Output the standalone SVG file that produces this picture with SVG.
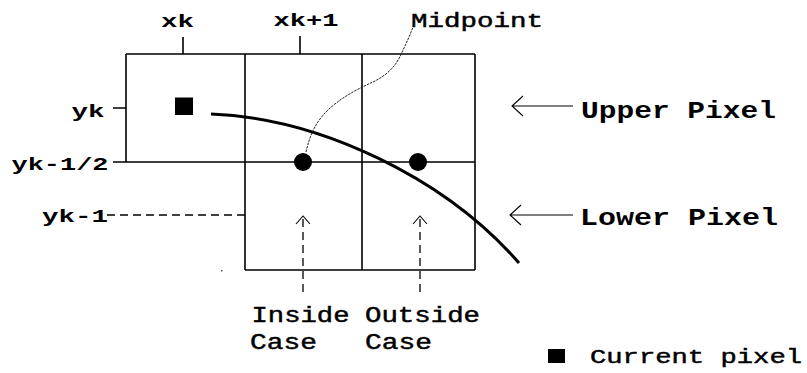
<svg xmlns="http://www.w3.org/2000/svg" width="807" height="373" viewBox="0 0 807 373">
<defs>
<style>
.bg{fill:#ffffff}
.grid{stroke:#000;stroke-width:1.6;fill:none}
.lbl{font-family:"Liberation Mono","DejaVu Sans Mono",monospace;fill:#000}
.b{font-weight:bold}
.r{stroke:#000;stroke-width:0.45}
.dash{stroke:#000;stroke-width:1.3;stroke-dasharray:8 5;fill:none}
.head{stroke:#000;stroke-width:1.1;fill:none}
</style>
</defs>
<rect class="bg" x="0" y="0" width="807" height="373"/>
<g id="grid">
<path class="grid" d="M126,54 H475 M113,162 H475 M245,270 H475 M126,54 V162 M245,54 V270 M362,54 V270 M475,54 V270 M183,37 V54 M300,36 V54 M113,108 H126"/>
<rect x="175" y="97.5" width="18" height="17.5" fill="#000"/>
<rect x="221" y="270" width="1.5" height="1.5" fill="#555"/>
</g>
<g id="labels">
<text class="lbl b" x="161" y="27" font-size="19" textLength="33" lengthAdjust="spacingAndGlyphs">xk</text>
<text class="lbl b" x="273.5" y="26" font-size="19" textLength="65" lengthAdjust="spacingAndGlyphs">xk+1</text>
<text class="lbl r" x="411" y="26.7" font-size="20" textLength="132" lengthAdjust="spacingAndGlyphs">Midpoint</text>
<text class="lbl b" x="71.5" y="117" font-size="19" textLength="33" lengthAdjust="spacingAndGlyphs">yk</text>
<text class="lbl b" x="11.5" y="169.5" font-size="19" textLength="97" lengthAdjust="spacingAndGlyphs">yk-1/2</text>
<text class="lbl b" x="42" y="221.5" font-size="19" textLength="66" lengthAdjust="spacingAndGlyphs">yk-1</text>
<text class="lbl b" x="581" y="118.3" font-size="24" textLength="195" lengthAdjust="spacingAndGlyphs">Upper Pixel</text>
<text class="lbl b" x="580" y="225" font-size="24" textLength="198" lengthAdjust="spacingAndGlyphs">Lower Pixel</text>
<text class="lbl r" x="251.5" y="321.7" font-size="22" textLength="98" lengthAdjust="spacingAndGlyphs">Inside</text>
<text class="lbl r" x="250" y="349" font-size="22" textLength="67" lengthAdjust="spacingAndGlyphs">Case</text>
<text class="lbl r" x="365" y="321.7" font-size="22" textLength="115" lengthAdjust="spacingAndGlyphs">Outside</text>
<text class="lbl r" x="365" y="349" font-size="22" textLength="67" lengthAdjust="spacingAndGlyphs">Case</text>
<rect x="548" y="349" width="17" height="14" fill="#000"/>
<text class="lbl r" x="590" y="362.7" font-size="21" textLength="212" lengthAdjust="spacingAndGlyphs">Current pixel</text>
</g>
<g id="connectors">
<path d="M211,114 C320,118 445,178 519,263" stroke="#000" stroke-width="3" fill="none"/>
<circle cx="303" cy="162" r="9" fill="#000"/>
<circle cx="418" cy="162" r="9" fill="#000"/>
<path d="M306,152 C310,135 315,122 330,108 C345,95 360,88 375,81 C392,72 398,62 403,50 C407,42 410,35 413,27" stroke="#222" stroke-width="1" stroke-dasharray="2.5 1" fill="none"/>
<path class="dash" d="M107,215 H245" stroke-dasharray="7 5"/>
<path class="dash" d="M303,219 V296 M420,219 V296"/>
<path class="head" d="M296,224 L303,216 L310,224 M413,224 L420,216 L427,224"/>
<path class="head" d="M573,106 H512 M523,96 L512,106 L523,116 M573,215 H510 M521,205 L510,215 L521,225"/>
</g>
</svg>
